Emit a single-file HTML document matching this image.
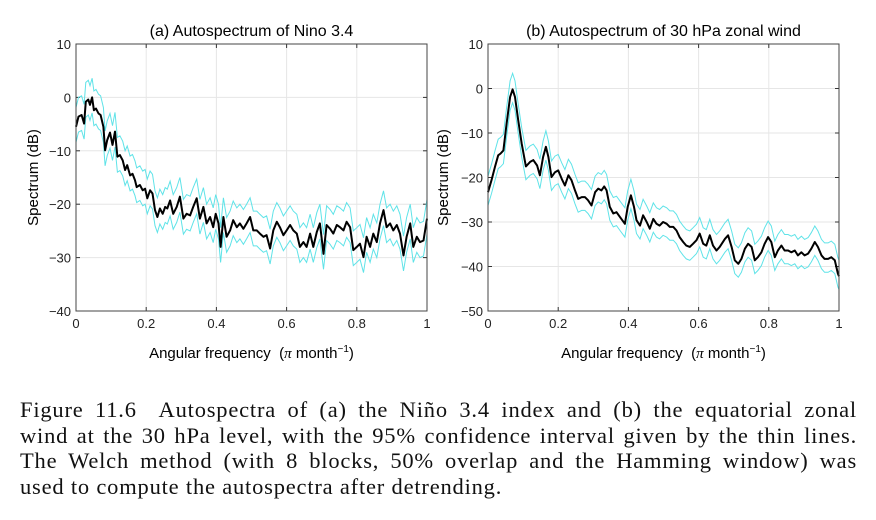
<!DOCTYPE html>
<html><head><meta charset="utf-8"><style>
body{margin:0;background:#fff;width:876px;height:520px;overflow:hidden;position:relative;font-family:"Liberation Sans",sans-serif}
svg{position:absolute;left:0;top:0}
.cap{position:absolute;left:20px;width:837px;font-family:"Liberation Serif",serif;font-size:22.5px;letter-spacing:0.8px;color:#111;line-height:25.7px}
.cap div{text-align:justify;text-align-last:justify;white-space:nowrap;height:25.7px}
.cap div.last{text-align-last:left}
</style></head><body>
<svg id="chart" width="876" height="380"></svg>
<div class="cap" style="top:397px">
<div>Figure 11.6&nbsp; Autospectra of (a) the Niño 3.4 index and (b) the equatorial zonal</div>
<div>wind at the 30 hPa level, with the 95% confidence interval given by the thin lines.</div>
<div>The Welch method (with 8 blocks, 50% overlap and the Hamming window) was</div>
<div class="last">used to compute the autospectra after detrending.</div>
</div>
<script>
const freqA=[0,.007,.016,.023,.028,.035,.040,.046,.051,.057,.064,.070,.078,.083,.089,.097,.104,.111,.118,.125,.133,.140,.146,.154,.161,.168,.173,.182,.190,.197,.203,.211,.218,.225,.232,.239,.247,.254,.260,.268,.277,.287,.296,.306,.315,.325,.334,.344,.353,.363,.372,.382,.391,.398,.406,.412,.420,.429,.439,.448,.458,.467,.477,.486,.496,.505,.515,.524,.534,.543,.553,.562,.572,.581,.591,.600,.610,.619,.629,.638,.648,.657,.667,.676,.686,.695,.705,.714,.724,.733,.743,.752,.762,.771,.781,.790,.800,.809,.819,.828,.838,.847,.857,.866,.876,.885,.895,.904,.914,.923,.933,.942,.952,.961,.971,.980,.990,1];
const specA=[-5.5,-3.6,-3.3,-4.9,-0.8,-0.4,-1.4,0,-2.4,-2.1,-3.0,-3.3,-5.5,-9.9,-8.0,-6.6,-8.9,-6.4,-11.1,-10.8,-11.8,-13.6,-12.7,-14.6,-14.3,-15.5,-16.8,-16.4,-17.4,-17.1,-18.9,-17.4,-18.0,-21.1,-22.4,-20.8,-21.8,-20.5,-20.8,-19.3,-21.8,-20.5,-18.6,-22.7,-21.8,-22.1,-20.5,-18.9,-22.7,-20.5,-23.6,-22.4,-24.3,-21.8,-23.6,-28.0,-22.4,-26.1,-24.9,-23.0,-24.3,-23.6,-24.6,-23.6,-22.4,-24.9,-24.9,-25.5,-26.1,-25.8,-28.3,-24.9,-23.3,-24.3,-25.8,-24.9,-23.9,-24.9,-25.5,-28.0,-27.1,-28.0,-25.5,-28.0,-25.2,-23.6,-29.3,-23.9,-24.6,-25.5,-23.9,-24.3,-24.9,-23.3,-24.3,-28.6,-28.0,-27.4,-29.9,-26.1,-28.0,-25.5,-27.1,-23.6,-21.1,-24.3,-23.6,-24.9,-23.9,-25.5,-29.6,-26.1,-23.6,-28.0,-26.1,-27.1,-26.8,-22.7];
const ciA=[3.6,-2.9];
const freqB=[0,.010,.020,.029,.036,.044,.053,.063,.070,.077,.086,.096,.108,.120,.129,.140,.148,.157,.165,.172,.181,.191,.200,.210,.219,.229,.238,.248,.257,.267,.276,.285,.295,.305,.314,.323,.331,.338,.347,.357,.366,.376,.390,.398,.407,.416,.423,.433,.442,.452,.461,.471,.480,.489,.499,.509,.518,.528,.537,.546,.556,.565,.575,.584,.594,.603,.613,.622,.632,.641,.651,.660,.675,.684,.694,.703,.713,.722,.732,.741,.751,.760,.769,.779,.788,.798,.807,.817,.826,.836,.845,.855,.864,.874,.883,.893,.902,.912,.921,.931,.940,.950,.959,.969,.978,.988,.997,1];
const specB=[-23.3,-20.6,-17.6,-15.0,-14.6,-13.9,-7.9,-1.9,-0.2,-1.9,-7.1,-12.4,-17.5,-16.5,-16.1,-17.3,-19.5,-15.4,-13.1,-15.4,-19.9,-18.8,-18.4,-20.3,-21.8,-19.5,-20.6,-22.9,-24.8,-24.4,-24.4,-25.1,-26.3,-23.3,-22.5,-22.9,-22.0,-22.9,-26.6,-28.1,-27.8,-28.9,-30.4,-26.6,-24.0,-26.6,-29.6,-30.8,-28.5,-30.0,-31.5,-29.3,-30.4,-30.8,-30.0,-30.4,-31.1,-31.1,-31.9,-33.4,-34.5,-35.3,-35.6,-34.9,-34.1,-32.6,-34.9,-35.3,-33.0,-35.3,-36.4,-35.6,-33.8,-33.0,-35.6,-38.6,-39.4,-38.3,-36.0,-34.9,-35.6,-38.6,-37.9,-36.8,-34.9,-33.4,-34.5,-37.9,-36.4,-35.3,-36.4,-36.4,-36.8,-36.4,-37.5,-36.8,-37.5,-37.1,-36.0,-34.5,-35.6,-37.5,-38.3,-38.3,-37.9,-38.6,-41.6,-42.2];
const ciB=[3.6,-3.0];
const ticksX=[0,0.2,0.4,0.6,0.8,1];
const ticksXLabels=["0","0.2","0.4","0.6","0.8","1"];
const ticksYA=[10,0,-10,-20,-30,-40];
const ticksYB=[10,0,-10,-20,-30,-40,-50];

const NS="http://www.w3.org/2000/svg";
const svg=document.getElementById('chart');
function mk(tag,attrs,parent){const e=document.createElementNS(NS,tag);for(const k in attrs)e.setAttribute(k,attrs[k]);(parent||svg).appendChild(e);return e;}
function panel(id,L,R,T,B,ymin,ymax,yt,freq,spec,ci,title,ylx){
  const g=mk('g',{});
  
  
  const sx=f=>L+(f-0)/(1-0)*(R-L);
  const sy=v=>T+(ymax-v)/(ymax-ymin)*(B-T);
  ticksX.forEach((t,i)=>{
    const x=sx(t);
    if(i>0&&i<ticksX.length-1){const l=mk('line',{x1:x,x2:x,y1:T,y2:B,stroke:'#e6e6e6','stroke-width':1},g);}
    mk('line',{x1:x,x2:x,y1:B,y2:B-4,stroke:'#333'},g);
    mk('line',{x1:x,x2:x,y1:T,y2:T+4,stroke:'#333'},g);
    const tx=mk('text',{x:x,y:B+17,'text-anchor':'middle','font-size':13,fill:'#222'},g);
    tx.textContent=ticksXLabels[i];
    
    
  });
  yt.forEach((t,i)=>{
    const y=sy(t);
    if(t<ymax&&t>ymin){const l=mk('line',{x1:L,x2:R,y1:y,y2:y,stroke:'#e6e6e6','stroke-width':1},g);}
    mk('line',{x1:L,x2:L+4,y1:y,y2:y,stroke:'#333'},g);
    mk('line',{x1:R,x2:R-4,y1:y,y2:y,stroke:'#333'},g);
    const tx=mk('text',{x:L-5,y:y+5,'text-anchor':'end','font-size':13,fill:'#222'},g);
    tx.textContent=t<0?'\u2212'+(-t):String(t);
    
    
  });
  const pth=(off)=>freq.map((f,i)=>(i?'L':'M')+sx(f).toFixed(1)+','+sy(spec[i]+off).toFixed(1)).join('');
  const up=mk('path',{d:pth(ci[0]),fill:'none',stroke:'#5fe3e8','stroke-width':1},g);
  
  
  const lo=mk('path',{d:pth(ci[1]),fill:'none',stroke:'#5fe3e8','stroke-width':1},g);
  
  
  const ln=mk('path',{d:pth(0),fill:'none',stroke:'#000','stroke-width':2,'stroke-linejoin':'round'},g);
  
  
  const box=mk('rect',{x:L,y:T,width:R-L,height:B-T,fill:'none',stroke:'#444','stroke-width':1},g);
  
  
  const tt=mk('text',{x:(L+R)/2,y:T-8,'text-anchor':'middle','font-size':16,fill:'#000'},g);
  tt.textContent=title;
  
  
  const xl=mk('text',{x:(L+R)/2,y:B+47,'text-anchor':'middle','font-size':15,fill:'#000'},g);
  xl.innerHTML='Angular frequency&#160; (<tspan font-family="Liberation Serif" font-style="italic">\u03c0</tspan> month<tspan dy="-6" font-size="10">\u22121</tspan><tspan dy="6">)</tspan>';
  
  
  const yl=mk('text',{x:0,y:0,'text-anchor':'middle','font-size':15,fill:'#000',transform:`translate(${ylx},${(T+B)/2}) rotate(-90)`},g);
  yl.textContent='Spectrum (dB)';
  
  
}
panel('a',76,427,44,311,-40,10,ticksYA,freqA,specA,ciA,'(a)  Autospectrum of Nino 3.4',38);
panel('b',488,839,44,311,-50,10,ticksYB,freqB,specB,ciB,'(b)  Autospectrum of 30 hPa zonal wind',448);
</script>
</body></html>
